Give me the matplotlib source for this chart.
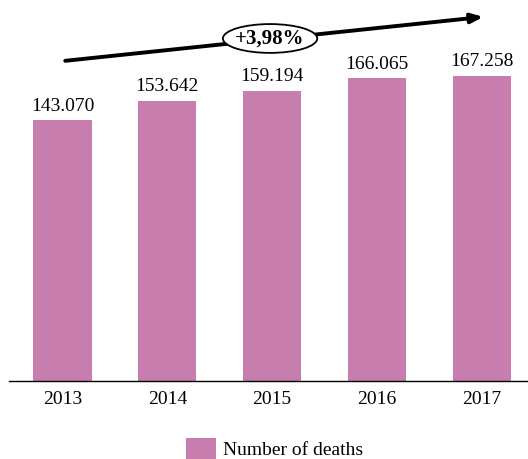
import matplotlib.pyplot as plt
from matplotlib.patches import Ellipse

years = ["2013", "2014", "2015", "2016", "2017"]
deaths = [143070, 153642, 159194, 166065, 167258]
value_labels = ["143.070", "153.642", "159.194", "166.065", "167.258"]
growth_label = "+3,98%"

BAR_COLOR = "#C77DAE"

plt.rcParams["font.family"] = ["Liberation Serif", "DejaVu Serif"]

fig = plt.figure(figsize=(5.28, 4.59), dpi=100)
ax = fig.add_axes([9 / 528, 78 / 459, 1 - 9 / 528, 1 - 78 / 459])

x = list(range(len(years)))
bars = ax.bar(x, deaths, width=0.555, color=BAR_COLOR, label="Number of deaths")

for xi, v, lab in zip(x, deaths, value_labels):
    ax.text(xi, v + 3000, lab, ha="center", va="bottom", fontsize=14)

ax.set_xlim(-0.51, 4.44)
ax.set_ylim(0, 208900)
ax.set_xticks(x)
ax.set_xticklabels(years, fontsize=14)
ax.tick_params(axis="x", length=0, pad=7)
ax.set_yticks([])
for side in ["left", "right", "top"]:
    ax.spines[side].set_visible(False)
ax.spines["bottom"].set_linewidth(1.0)

# trend arrow with growth badge
ax.annotate("", xy=(4.04, 199800), xytext=(0.0, 175400),
            arrowprops=dict(arrowstyle="-|>,head_length=0.7,head_width=0.28",
                            lw=2.8, color="black"),
            annotation_clip=False)
ell = Ellipse((1.98, 187800), width=0.9, height=15800, facecolor="white",
              edgecolor="black", lw=1.3, zorder=5, clip_on=False)
ax.add_patch(ell)
ax.text(1.98, 187800, growth_label, ha="center", va="center", fontsize=15,
        fontweight="bold", zorder=6)

fig.legend(handles=[bars], loc="center", bbox_to_anchor=(0.52, 10 / 459),
           frameon=False, fontsize=14, handlelength=1.55, handleheight=1.4,
           handletextpad=0.35, borderpad=0)

fig.savefig("out.png", dpi=100)
